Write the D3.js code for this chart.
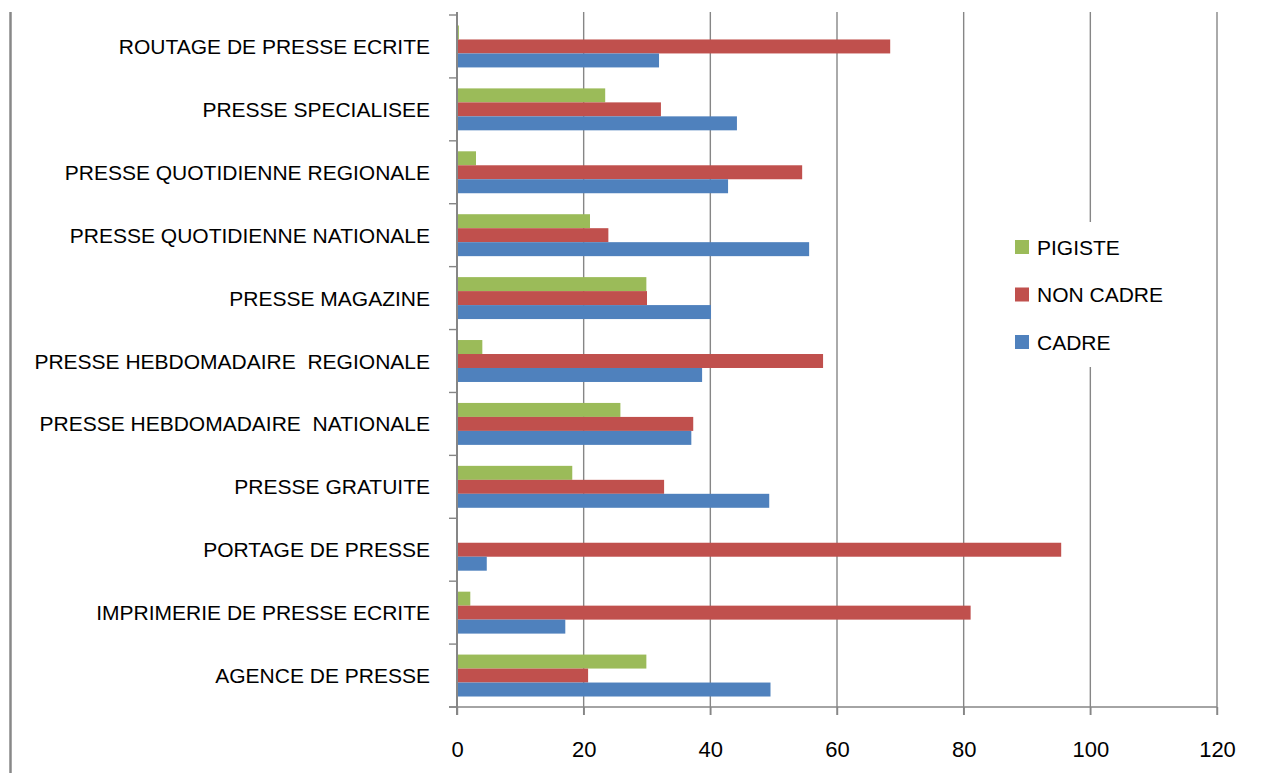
<!DOCTYPE html>
<html>
<head>
<meta charset="utf-8">
<script src="https://cdn.jsdelivr.net/npm/d3@7/dist/d3.min.js"></script>
<style>
  html, body { margin: 0; padding: 0; background: #fff; }
  svg { display: block; }
  text { font-family: "Liberation Sans", Arial, sans-serif; fill: #000; }
</style>
</head>
<body>
<svg id="chart" width="1266" height="773"></svg>
<script>
// ---- data ----
const categories = [
  "ROUTAGE DE PRESSE ECRITE",
  "PRESSE SPECIALISEE",
  "PRESSE QUOTIDIENNE REGIONALE",
  "PRESSE QUOTIDIENNE NATIONALE",
  "PRESSE MAGAZINE",
  "PRESSE HEBDOMADAIRE  REGIONALE",
  "PRESSE HEBDOMADAIRE  NATIONALE",
  "PRESSE GRATUITE",
  "PORTAGE DE PRESSE",
  "IMPRIMERIE DE PRESSE ECRITE",
  "AGENCE DE PRESSE"
];
const seriesNames = ["PIGISTE", "NON CADRE", "CADRE"];
const pigiste  = [0.3, 23.4, 3.0, 21.0, 29.9, 4.0, 25.8, 18.2, 0, 2.1, 29.9];
const nonCadre = [68.4, 32.2, 54.5, 23.9, 30.0, 57.8, 37.3, 32.7, 95.4, 81.1, 20.7];
const cadre    = [31.9, 44.2, 42.8, 55.6, 40.1, 38.7, 37.0, 49.3, 4.7, 17.1, 49.5];
const xTicks = [0, 20, 40, 60, 80, 100, 120];
const colors = ["#9BBB59", "#C0504D", "#4F81BD"];

const seriesValues = [pigiste, nonCadre, cadre];

// ---- layout ----
const svg = d3.select("#chart");
const plot = { left: 457, right: 1217, top: 15, bottom: 707 };
const gridColor = "#868686";

// left border line
svg.append("line")
  .attr("x1", 10.5).attr("x2", 10.5).attr("y1", 12).attr("y2", 773)
  .attr("stroke", "#888").attr("stroke-width", 2.5);

const x = d3.scaleLinear().domain([0, 120]).range([plot.left, plot.right]);
const y = d3.scaleBand().domain(categories).range([plot.top, plot.bottom])
  .paddingInner(1/3).paddingOuter(1/6);
const ySub = d3.scaleBand().domain(seriesNames).range([0, y.bandwidth()]);

// gridlines
svg.append("g").selectAll("line")
  .data(xTicks.filter(t => t > 0))
  .join("line")
  .attr("x1", d => x(d)).attr("x2", d => x(d))
  .attr("y1", 12).attr("y2", plot.bottom + 8)
  .attr("stroke", gridColor).attr("stroke-width", 1.4);

// bars
const barG = svg.append("g");
seriesNames.forEach((s, si) => {
  barG.append("g").selectAll("rect")
    .data(categories.map((c, i) => ({ c, v: seriesValues[si][i] })))
    .join("rect")
    .attr("x", x(0))
    .attr("y", d => y(d.c) + ySub(s))
    .attr("width", d => Math.max(0, x(d.v) - x(0)))
    .attr("height", ySub.bandwidth())
    .attr("fill", colors[si]);
});

// x axis
const xAxis = svg.append("g").attr("transform", `translate(0,${plot.bottom})`)
  .call(d3.axisBottom(x).tickValues(xTicks).tickSize(8).tickSizeOuter(0).tickPadding(26));
xAxis.select(".domain").attr("stroke", gridColor).attr("stroke-width", 1.4)
  .attr("d", `M${plot.left - 8},0H${plot.right}`);
xAxis.selectAll(".tick line").attr("stroke", gridColor).attr("stroke-width", 1.4);
xAxis.selectAll(".tick text")
  .style("font-family", '"Liberation Sans", Arial, sans-serif')
  .style("font-size", "22px").attr("fill", "#000");

// y axis line with ticks between categories
const yAxisG = svg.append("g");
yAxisG.append("line")
  .attr("x1", plot.left).attr("x2", plot.left)
  .attr("y1", 12).attr("y2", plot.bottom + 8)
  .attr("stroke", gridColor).attr("stroke-width", 2);
const boundaries = categories.map(c => y(c) - y.step() * y.paddingInner() / 2);
boundaries.push(plot.bottom);
yAxisG.selectAll("line.tk")
  .data(boundaries)
  .join("line").attr("class", "tk")
  .attr("x1", plot.left - 8).attr("x2", plot.left)
  .attr("y1", d => d).attr("y2", d => d)
  .attr("stroke", gridColor).attr("stroke-width", 1.4);

// category labels
svg.append("g").selectAll("text")
  .data(categories)
  .join("text")
  .attr("x", 430)
  .attr("y", d => y(d) + y.bandwidth() / 2)
  .attr("dy", "0.36em")
  .attr("text-anchor", "end")
  .style("font-size", "21px")
  .style("white-space", "pre")
  .attr("xml:space", "preserve")
  .text(d => d);

// legend
const legend = svg.append("g");
legend.append("rect")
  .attr("x", 1000).attr("y", 222).attr("width", 190).attr("height", 145)
  .attr("fill", "#fff");
seriesNames.forEach((s, i) => {
  const cy = 247 + i * 47.5;
  legend.append("rect")
    .attr("x", 1015).attr("y", cy - 7).attr("width", 14).attr("height", 14)
    .attr("fill", colors[i]);
  legend.append("text")
    .attr("x", 1037).attr("y", cy).attr("dy", "0.36em")
    .style("font-size", "21px")
    .text(s);
});
</script>
</body>
</html>
